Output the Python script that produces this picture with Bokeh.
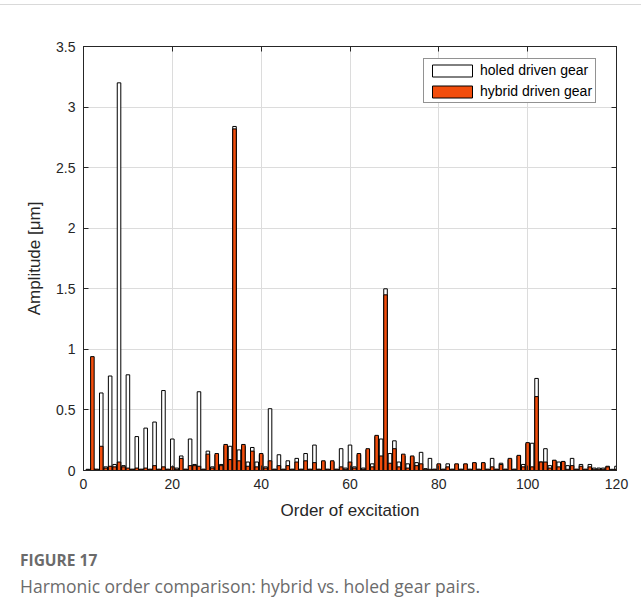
from bokeh.plotting import figure
from bokeh.layouts import column
from bokeh.models import (Range1d, LinearAxis, FixedTicker, Legend, LegendItem,
                          CustomJSTickFormatter, ColumnDataSource, Div)
from bokeh.embed import file_html
from bokeh.resources import INLINE

# Harmonic orders of excitation
orders = list(range(1, 121))

# Amplitude [um] for the holed driven gear
holed = [
    0.01, 0.02, 0.01, 0.64, 0.03, 0.78, 0.05, 3.20, 0.04, 0.79,
    0.01, 0.28, 0.01, 0.35, 0.01, 0.40, 0.01, 0.66, 0.01, 0.26,
    0.02, 0.12, 0.01, 0.26, 0.05, 0.65, 0.01, 0.16, 0.03, 0.13,
    0.05, 0.20, 0.20, 2.84, 0.17, 0.20, 0.07, 0.19, 0.07, 0.13,
    0.03, 0.51, 0.01, 0.13, 0.01, 0.08, 0.01, 0.10, 0.01, 0.14,
    0.01, 0.21, 0.01, 0.07, 0.01, 0.07, 0.01, 0.18, 0.02, 0.21,
    0.03, 0.13, 0.02, 0.17, 0.055, 0.28, 0.26, 1.50, 0.14, 0.245,
    0.07, 0.12, 0.055, 0.11, 0.065, 0.15, 0.015, 0.10, 0.01, 0.05,
    0.01, 0.055, 0.01, 0.05, 0.01, 0.05, 0.01, 0.06, 0.01, 0.06,
    0.01, 0.10, 0.01, 0.06, 0.01, 0.09, 0.01, 0.12, 0.05, 0.22,
    0.225, 0.76, 0.07, 0.18, 0.04, 0.08, 0.07, 0.07, 0.04, 0.10,
    0.01, 0.05, 0.01, 0.05, 0.02, 0.02, 0.02, 0.035, 0.01, 0.035,
]

# Amplitude [um] for the hybrid driven gear
hybrid = [
    0.005, 0.94, 0.01, 0.20, 0.02, 0.035, 0.03, 0.07, 0.03, 0.02,
    0.01, 0.02, 0.01, 0.02, 0.01, 0.04, 0.01, 0.03, 0.01, 0.03,
    0.01, 0.10, 0.01, 0.04, 0.04, 0.035, 0.01, 0.135, 0.02, 0.14,
    0.04, 0.215, 0.09, 2.82, 0.08, 0.215, 0.035, 0.16, 0.03, 0.14,
    0.02, 0.08, 0.01, 0.04, 0.01, 0.04, 0.01, 0.07, 0.01, 0.08,
    0.01, 0.065, 0.01, 0.08, 0.01, 0.08, 0.01, 0.03, 0.01, 0.07,
    0.02, 0.14, 0.01, 0.18, 0.03, 0.29, 0.12, 1.45, 0.06, 0.18,
    0.03, 0.135, 0.02, 0.12, 0.04, 0.055, 0.01, 0.01, 0.01, 0.055,
    0.01, 0.03, 0.01, 0.055, 0.01, 0.055, 0.01, 0.065, 0.01, 0.065,
    0.01, 0.03, 0.01, 0.05, 0.01, 0.10, 0.01, 0.125, 0.03, 0.23,
    0.03, 0.61, 0.07, 0.07, 0.02, 0.085, 0.03, 0.075, 0.01, 0.04,
    0.01, 0.035, 0.01, 0.03, 0.01, 0.01, 0.01, 0.03, 0.005, 0.01,
]

x_ticks = [0, 20, 40, 60, 80, 100, 120]
y_ticks = [0, 0.5, 1, 1.5, 2, 2.5, 3, 3.5]

INK = "#262626"
ORANGE = "#F24D0C"
FONT = "Liberation Sans"

src = ColumnDataSource(dict(order=orders, holed=holed, hybrid=hybrid))

# thin rule above the figure
rule = Div(text="", width=641, height=5, margin=0,
           styles={"border-bottom": "1px solid #D9D9D9", "box-sizing": "border-box"})

p = figure(width=641, height=525, output_backend="svg", toolbar_location=None,
           x_range=Range1d(0, 120), y_range=Range1d(0, 3.5),
           min_border_left=83, min_border_right=25, min_border_top=41,
           min_border_bottom=60, background_fill_color="white",
           border_fill_color="white", margin=0)

r_holed = p.vbar(x="order", top="holed", width=0.8, source=src,
                 fill_color="white", line_color="black", line_width=1)
r_hybrid = p.vbar(x="order", top="hybrid", width=0.8, source=src,
                  fill_color=ORANGE, line_color="black", line_width=1)

p.outline_line_color = INK
p.outline_line_width = 1

fmt = CustomJSTickFormatter(code="return String(Math.round(tick*10)/10);")

for ax in (p.xaxis[0], p.yaxis[0]):
    ax.major_tick_in = 5
    ax.major_tick_out = 0
    ax.minor_tick_in = 0
    ax.minor_tick_out = 0
    ax.axis_line_color = INK
    ax.major_tick_line_color = INK
    ax.major_label_text_color = INK
    ax.major_label_text_font = FONT
    ax.major_label_text_font_size = "14px"
    ax.axis_label_text_font = FONT
    ax.axis_label_text_font_size = "17px"
    ax.axis_label_text_font_style = "normal"
    ax.axis_label_text_color = INK
    ax.formatter = fmt

p.xaxis[0].ticker = FixedTicker(ticks=x_ticks)
p.yaxis[0].ticker = FixedTicker(ticks=y_ticks)
p.xaxis[0].axis_label = "Order of excitation"
p.yaxis[0].axis_label = "Amplitude [μm]"
p.xaxis[0].major_label_standoff = 8
p.yaxis[0].major_label_standoff = 8
p.xaxis[0].axis_label_standoff = 9
p.yaxis[0].axis_label_standoff = 9

# mirrored tick marks on the top and right for a closed box
blank = CustomJSTickFormatter(code="return '';")
for loc, ticks in (("above", x_ticks), ("right", y_ticks)):
    ax = LinearAxis(ticker=FixedTicker(ticks=ticks), formatter=blank,
                    major_tick_in=5, major_tick_out=0, minor_tick_in=0,
                    minor_tick_out=0, axis_line_color=INK,
                    major_tick_line_color=INK, major_label_standoff=0)
    p.add_layout(ax, loc)

p.xgrid.ticker = FixedTicker(ticks=x_ticks)
p.ygrid.ticker = FixedTicker(ticks=y_ticks)
p.grid.grid_line_color = "#DCDCDC"
p.grid.grid_line_width = 1

legend = Legend(items=[LegendItem(label="holed driven gear", renderers=[r_holed]),
                       LegendItem(label="hybrid driven gear", renderers=[r_hybrid])],
                location=(340, 367), padding=3, spacing=5, margin=0,
                glyph_width=50, glyph_height=15, label_standoff=3,
                label_text_font=FONT, label_text_font_size="14px",
                label_height=15,
                label_text_color="black", border_line_color=INK,
                border_line_width=1, background_fill_alpha=1)
p.add_layout(legend)

# figure caption below the chart
caption = Div(
    text=("<div style=\"font-family:'Open Sans';font-size:15.5px;font-weight:700;"
          "line-height:18px;color:#6B6B6B;padding-top:21px;margin-left:20px\">"
          "FIGURE 17</div>"
          "<div style=\"font-family:'Open Sans';font-size:17.5px;line-height:22px;"
          "color:#6B6B6B;margin-top:6px;margin-left:20px;white-space:nowrap\">"
          "Harmonic order comparison: hybrid vs. holed gear pairs.</div>"),
    width=641, height=83, margin=0)

layout = column(rule, p, caption, spacing=0)
open("out.html", "w").write(file_html(layout, INLINE))
